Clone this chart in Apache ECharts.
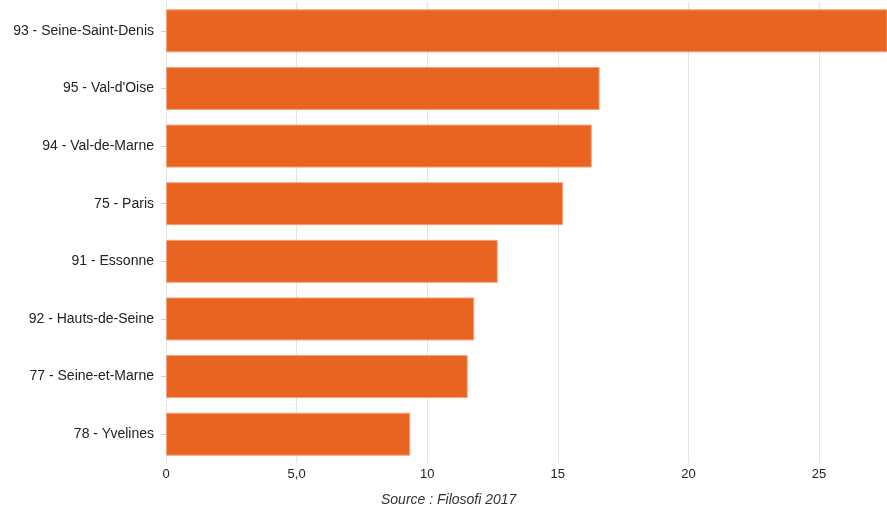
<!DOCTYPE html>
<html>
<head>
<meta charset="utf-8">
<script src="https://cdn.jsdelivr.net/npm/echarts@6/dist/echarts.min.js"></script>
<style>
  html, body { margin: 0; padding: 0; background: #fff; }
  #container { width: 887px; height: 511px; }
</style>
</head>
<body>
<div id="container"></div>
<script>
// départements (du haut vers le bas)
var categories = ['93 - Seine-Saint-Denis', '95 - Val-d\'Oise', '94 - Val-de-Marne', '75 - Paris',
    '91 - Essonne', '92 - Hauts-de-Seine', '77 - Seine-et-Marne', '78 - Yvelines'];
// valeurs
var values = [27.9, 16.6, 16.3, 15.2, 12.7, 11.8, 11.55, 9.35];
// libellés de l'axe horizontal
var tickValues = [0, 5, 10, 15, 20, 25];
var tickLabels = ['0', '5,0', '10', '15', '20', '25'];
var axisMax = 27.6;
var sourceText = 'Source : Filosofi 2017';

var myChart = echarts.init(document.getElementById('container'));
var option = {
    animation: false,
    textStyle: { fontFamily: 'Liberation Sans, Arial, sans-serif' },
    grid: {
        left: 166,
        right: 0,
        top: 2,
        bottom: 48
    },
    xAxis: {
        type: 'value',
        min: 0,
        max: axisMax,
        interval: 5,
        axisLine: { show: false },
        axisTick: { show: false },
        splitLine: { lineStyle: { color: '#e4e4e4', width: 1 } },
        axisLabel: {
            color: '#222',
            fontSize: 13,
            margin: 5,
            showMaxLabel: false,
            formatter: function (v) {
                var i = tickValues.indexOf(v);
                return i >= 0 ? tickLabels[i] : '';
            }
        }
    },
    yAxis: {
        type: 'category',
        inverse: true,
        data: categories,
        axisLine: { show: false },
        axisTick: {
            show: true,
            alignWithLabel: true,
            length: 5,
            lineStyle: { color: '#cccccc' }
        },
        axisLabel: {
            color: '#222',
            fontSize: 14,
            margin: 12,
            padding: [3, 0, 0, 0]
        }
    },
    graphic: [{
        type: 'text',
        left: 381,
        top: 493,
        style: {
            text: sourceText,
            fill: '#333',
            font: 'italic 14px "Liberation Sans", Arial, sans-serif'
        }
    }],
    series: [{
        type: 'bar',
        data: values,
        barWidth: 43,
        clip: true,
        itemStyle: {
            color: '#e96420',
            borderColor: '#f3a47c',
            borderWidth: 1
        }
    }]
};
myChart.setOption(option);
</script>
</body>
</html>
